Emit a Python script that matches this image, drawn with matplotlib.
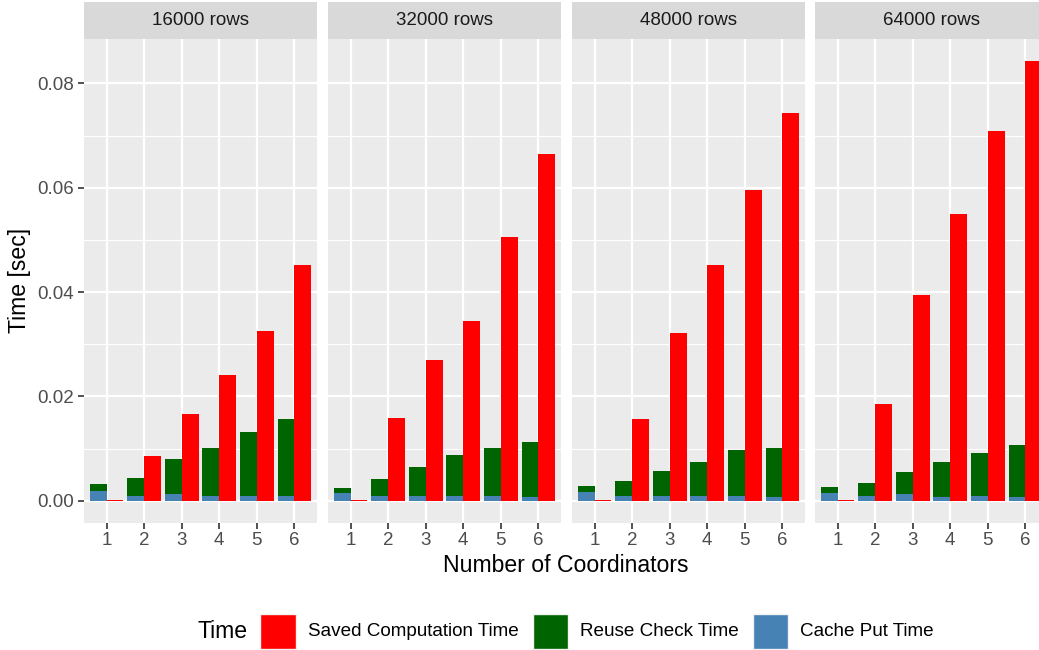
import matplotlib.pyplot as plt
from matplotlib.patches import Rectangle

plt.rcParams['font.family'] = ['Liberation Sans', 'DejaVu Sans']

panels = ["16000 rows", "32000 rows", "48000 rows", "64000 rows"]
coordinators = [1, 2, 3, 4, 5, 6]

# seconds, one list per row count
cache_put = [
    [0.0019, 0.0010, 0.00125, 0.0010, 0.0010, 0.00085],
    [0.0014, 0.0010, 0.0010, 0.00085, 0.00085, 0.0007],
    [0.0016, 0.0010, 0.0010, 0.00085, 0.00085, 0.0007],
    [0.0014, 0.00085, 0.00125, 0.0007, 0.00085, 0.0007],
]
reuse_check = [
    [0.00135, 0.0034, 0.00685, 0.0092, 0.0121, 0.01475],
    [0.0010, 0.0031, 0.0054, 0.00785, 0.00935, 0.0105],
    [0.0012, 0.0027, 0.0048, 0.00655, 0.00885, 0.0095],
    [0.0012, 0.00265, 0.00435, 0.0067, 0.00825, 0.0099],
]
saved_comp = [
    [0.0002, 0.0085, 0.0167, 0.0242, 0.0326, 0.0452],
    [0.0002, 0.0158, 0.0269, 0.0345, 0.0506, 0.0665],
    [0.0002, 0.0156, 0.0322, 0.0452, 0.0596, 0.0743],
    [0.0002, 0.0185, 0.0395, 0.0550, 0.0709, 0.0843],
]

labels = ["Saved Computation Time", "Reuse Check Time", "Cache Put Time"]
colors = ["#FF0000", "#006400", "#4682B4"]

W, H = 1039, 650
fig = plt.figure(figsize=(W / 100, H / 100), dpi=100)

def fx(px):
    return px / W

def fy(py):
    return 1 - py / H

panel_left = [84, 328, 572, 815]
panel_w = 233
top, bottom = 39, 522.7
strip_top = 2
bw = 0.45

for k, name in enumerate(panels):
    ax = fig.add_axes([fx(panel_left[k]), fy(bottom), fx(panel_w), (bottom - top) / H])
    ax.set_facecolor("#EBEBEB")
    ax.set_xlim(0.4, 6.6)
    ax.set_ylim(-0.0042, 0.0885)
    ax.set_yticks([0, 0.02, 0.04, 0.06, 0.08])
    ax.set_yticks([0.01, 0.03, 0.05, 0.07], minor=True)
    ax.set_xticks(coordinators)
    ax.grid(True, which="major", color="white", linewidth=1.6)
    ax.grid(True, which="minor", axis="y", color="white", linewidth=0.8)
    ax.set_axisbelow(True)
    for s in ax.spines.values():
        s.set_visible(False)

    xl = [c - bw / 2 for c in coordinators]
    xr = [c + bw / 2 for c in coordinators]
    ax.bar(xl, cache_put[k], width=bw, color=colors[2], linewidth=0)
    ax.bar(xl, reuse_check[k], bottom=cache_put[k], width=bw, color=colors[1], linewidth=0)
    ax.bar(xr, saved_comp[k], width=bw, color=colors[0], linewidth=0)

    ax.tick_params(axis="x", length=4, width=1.2, color="#333333", labelsize=13.5,
                   labelcolor="#4D4D4D", pad=3)
    ax.tick_params(which="minor", length=0)
    if k == 0:
        ax.tick_params(axis="y", length=4, width=1.2, color="#333333", labelsize=13.5,
                       labelcolor="#4D4D4D", pad=3)
        ax.set_yticklabels(["0.00", "0.02", "0.04", "0.06", "0.08"])
    else:
        ax.tick_params(axis="y", length=0, labelleft=False)

    # facet strip
    sax = fig.add_axes([fx(panel_left[k]), fy(top), fx(panel_w), (top - strip_top) / H])
    sax.set_facecolor("#D9D9D9")
    sax.set_xticks([])
    sax.set_yticks([])
    for s in sax.spines.values():
        s.set_visible(False)
    sax.text(0.5, 0.5, name, ha="center", va="center", fontsize=13.5, color="#1A1A1A")

fig.text(fx(566), fy(565), "Number of Coordinators", ha="center", va="center",
         fontsize=16.6, color="black")
fig.text(fx(20), fy(280), "Time [sec]", ha="center", va="center", rotation=90,
         fontsize=16.6, color="black")

# legend along the bottom
fig.text(fx(197), fy(632), "Time", ha="left", va="center", fontsize=16.6)
key_x = [260, 532.5, 752.5]
text_x = [307.5, 580, 800.5]
for i in range(3):
    fig.patches.append(Rectangle((fx(key_x[i]), fy(649)), fx(35.5), 35.5 / H,
                                 transform=fig.transFigure, facecolor=colors[i],
                                 edgecolor="#F2F2F2", linewidth=1))
    fig.text(fx(text_x[i]), fy(632), labels[i], ha="left", va="center", fontsize=13.6)

fig.savefig("out.png", dpi=100)
